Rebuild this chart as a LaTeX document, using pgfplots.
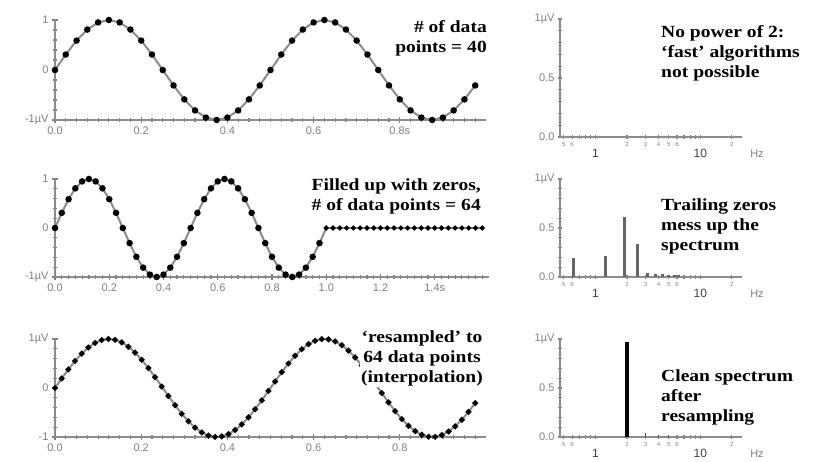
\documentclass[border=0pt]{standalone}
\usepackage{fontspec}
\setmainfont{Liberation Sans}
\newfontfamily\annot[FakeStretch=1.15]{Liberation Serif}
\usepackage{pgfplots}
\pgfplotsset{compat=1.18}

\pgfplotstableread{
x y
0.000 0
0.025 0.309
0.050 0.588
0.075 0.809
0.100 0.951
0.125 1
0.150 0.951
0.175 0.809
0.200 0.588
0.225 0.309
0.250 0
0.275 -0.309
0.300 -0.588
0.325 -0.809
0.350 -0.951
0.375 -1
0.400 -0.951
0.425 -0.809
0.450 -0.588
0.475 -0.309
0.500 0
0.525 0.309
0.550 0.588
0.575 0.809
0.600 0.951
0.625 1
0.650 0.951
0.675 0.809
0.700 0.588
0.725 0.309
0.750 0
0.775 -0.309
0.800 -0.588
0.825 -0.809
0.850 -0.951
0.875 -1
0.900 -0.951
0.925 -0.809
0.950 -0.588
0.975 -0.309
}\sigA

\pgfplotstableread{
x y
1.000 0
1.025 0
1.050 0
1.075 0
1.100 0
1.125 0
1.150 0
1.175 0
1.200 0
1.225 0
1.250 0
1.275 0
1.300 0
1.325 0
1.350 0
1.375 0
1.400 0
1.425 0
1.450 0
1.475 0
1.500 0
1.525 0
1.550 0
1.575 0
}\zeros

\pgfplotstableread{
x y
0 0
0.0155 0.1933
0.0310 0.3792
0.0464 0.5508
0.0619 0.7018
0.0774 0.8262
0.0929 0.9195
0.1083 0.9781
0.1238 0.9999
0.1393 0.9839
0.1548 0.9309
0.1702 0.8428
0.1857 0.7227
0.2012 0.5757
0.2167 0.4067
0.2321 0.2225
0.2476 0.0299
0.2631 -0.1638
0.2786 -0.3514
0.2940 -0.5257
0.3095 -0.6802
0.3250 -0.8090
0.3405 -0.9074
0.3560 -0.9715
0.3714 -0.9990
0.3869 -0.9888
0.4024 -0.9414
0.4179 -0.8585
0.4333 -0.7431
0.4488 -0.5998
0.4643 -0.4339
0.4798 -0.2515
0.4952 -0.0598
0.5107 0.1342
0.5262 0.3232
0.5417 0.5000
0.5571 0.6579
0.5726 0.7913
0.5881 0.8944
0.6036 0.9639
0.6190 0.9972
0.6345 0.9928
0.6500 0.9511
0.6655 0.8734
0.6810 0.7627
0.6964 0.6235
0.7119 0.4607
0.7274 0.2804
0.7429 0.0896
0.7583 -0.1045
0.7738 -0.2948
0.7893 -0.4739
0.8048 -0.6350
0.8202 -0.7721
0.8357 -0.8806
0.8512 -0.9556
0.8667 -0.9945
0.8821 -0.9965
0.8976 -0.9599
0.9131 -0.8877
0.9286 -0.7818
0.9440 -0.6463
0.9595 -0.4869
0.9750 -0.3090
}\sigC

\pgfplotsset{
 mybase/.style={scale only axis, axis x line*=bottom, axis y line*=left,
   axis line style={-, black!45, line width=1.5pt},
   tick style={black!50, line width=1.2pt},
   major tick length=6pt, minor tick length=4pt,
   xtick align=center, ytick align=center, enlargelimits=false, clip=false,
   tick label style={font=\fontsize{11}{13}\selectfont, text=black!50},
   /pgf/number format/assume math mode=true},
 leftax/.style={mybase, ymin=-1, ymax=1, ytick={-1,0,1}, minor y tick num=4, minor x tick num=7},
 sig/.style={black!45, line width=2pt, mark=*, mark size=2.2pt, mark options={black, fill=black, draw=none}},
 spec/.style={mybase, xmin=0.46, xmax=25, ymin=0, ymax=1, ytick={0,0.5,1},
   yticklabels={0.0,0.5,1µV}, minor y tick num=4,
   xtick={0.5,0.6,2,3,4,5,6,20}, xticklabels={5,6,2,3,4,5,6,2},
   minor xtick={0.7,0.8,0.9,7,8,9},
   major tick length=4pt, minor tick length=4pt,
   x tick label style={font=\fontsize{6}{7}\selectfont},
   extra x ticks={1,10}, extra x tick labels={{\fontsize{12}{13}\selectfont\color{black!75}1},{\fontsize{12}{13}\selectfont\color{black!75}10}},
   extra x tick style={tick label style={yshift=-7pt}}},
}

\tikzset{ann/.style={font=\annot\bfseries\fontsize{17}{20}\selectfont, inner sep=1pt}}

\begin{document}
\begin{tikzpicture}[x=1pt,y=1pt]
\useasboundingbox (0,0) rectangle (818,462);

% Row 1 left
\begin{axis}[leftax, at={(55pt,342pt)}, anchor=south west, width=431pt, height=100pt,
  xmin=0, xmax=1.0, xtick={0,0.2,0.4,0.6,0.8}, xticklabels={0.0,0.2,0.4,0.6,0.8s},
  extra x ticks={0.825,0.85,0.875,0.9,0.925,0.95,0.975}, extra x tick labels={},
  extra x tick style={major tick length=4pt},
  yticklabels={-1µV,0,1}]
\addplot[sig] table {\sigA};
\end{axis}

% Row 2 left
\begin{axis}[leftax, at={(55pt,185pt)}, anchor=south west, width=434pt, height=98pt,
  xmin=0, xmax=1.6, xtick={0,0.2,0.4,0.6,0.8,1.0,1.2,1.4}, xticklabels={0.0,0.2,0.4,0.6,0.8,1.0,1.2,1.4s},
  extra x ticks={1.425,1.45,1.475,1.5,1.525,1.55,1.575}, extra x tick labels={},
  extra x tick style={major tick length=4pt},
  yticklabels={-1µV,0,1}]
\addplot[black!45, line width=2pt] coordinates {(0.975,-0.309)(1.0,0)};
\addplot[sig] table {\sigA};
\addplot[sig, mark size=1.4pt] table {\zeros};
\end{axis}

% Row 3 left
\begin{axis}[leftax, at={(55pt,25pt)}, anchor=south west, width=431pt, height=98pt,
  xmin=0, xmax=1.0, xtick={0,0.2,0.4,0.6,0.8}, xticklabels={0.0,0.2,0.4,0.6,0.8},
  extra x ticks={0.825,0.85,0.875,0.9,0.925,0.95,0.975}, extra x tick labels={},
  extra x tick style={major tick length=4pt},
  yticklabels={-1,0,1µV}]
\addplot[sig, mark size=1.8pt] table {\sigC};
\end{axis}

% Row 1 right
\begin{axis}[xmode=log, spec, at={(560pt,325pt)}, anchor=south west, width=182pt, height=118pt]
\node[font=\fontsize{11}{12}\selectfont, text=black!50] at (rel axis cs:1,0) [xshift=15pt, yshift=-17pt] {Hz};
\end{axis}

% Row 2 right
\begin{axis}[xmode=log, spec, at={(560pt,185pt)}, anchor=south west, width=182pt, height=98pt]
\addplot[ycomb, line width=3pt, black!60] coordinates {(0.625,0.19)(1.25,0.21)(1.875,0.61)(2.5,0.34)(3.125,0.04)(3.75,0.03)(4.375,0.035)(5,0.02)(5.625,0.025)(6.25,0.02)};
\node[font=\fontsize{11}{12}\selectfont, text=black!50] at (rel axis cs:1,0) [xshift=15pt, yshift=-17pt] {Hz};
\end{axis}

% Row 3 right
\begin{axis}[xmode=log, spec, at={(560pt,25pt)}, anchor=south west, width=182pt, height=98pt]
\addplot[ycomb, line width=3.5pt, black] coordinates {(2,0.97)};
\addplot[ycomb, line width=1.5pt, black!70] coordinates {(3,0.04)(4,0.02)(5,0.02)};
\node[font=\fontsize{11}{12}\selectfont, text=black!50] at (rel axis cs:1,0) [xshift=15pt, yshift=-17pt] {Hz};
\end{axis}

% annotations
\node[ann, anchor=east, align=right] at (488,424) {\# of data\\points = 40};
\node[ann, anchor=west, align=left] at (660,409) {No power of 2:\\‘fast’ algorithms\\not possible};
\node[ann, anchor=east, align=right] at (482,266) {Filled up with zeros,\\\# of data points = 64};
\node[ann, anchor=west, align=left] at (660,236) {Trailing zeros\\mess up the\\spectrum};
\node[ann, anchor=center, align=center, fill=white] at (422,104) {‘resampled’ to\\64 data points\\(interpolation)};
\node[ann, anchor=west, align=left] at (660,65) {Clean spectrum\\after\\resampling};
\end{tikzpicture}
\end{document}
